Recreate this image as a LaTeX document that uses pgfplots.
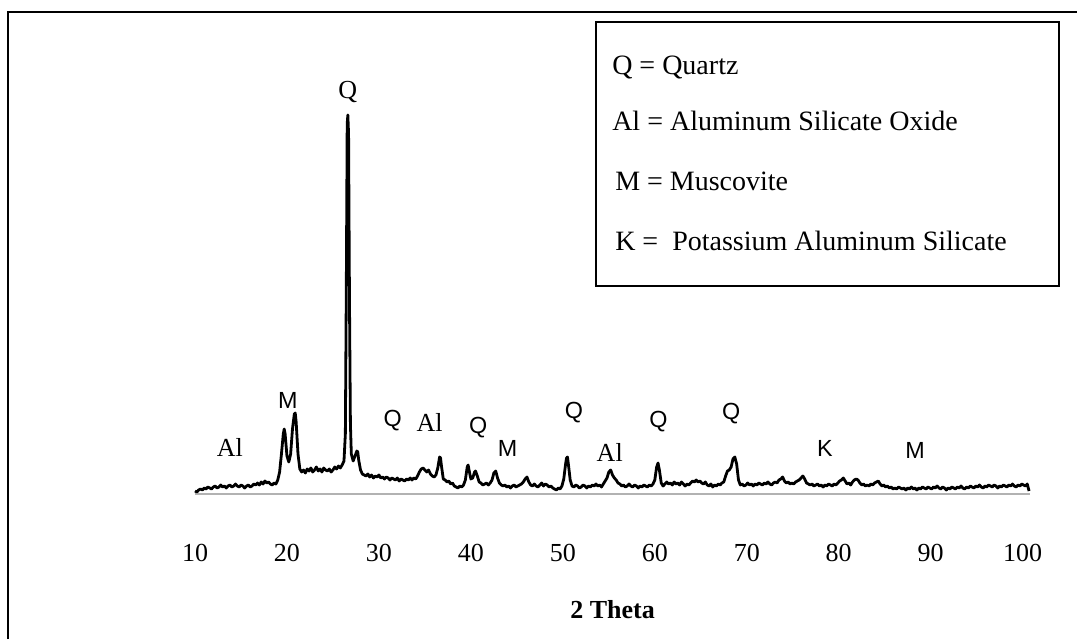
\documentclass[border=0pt]{standalone}
\usepackage{fontspec}
\setmainfont{Liberation Serif}
\newfontfamily\arial{Liberation Sans}
\usepackage{pgfplots}
\pgfplotsset{compat=1.18}

% 1 px of the reference = 0.75pt
\newcommand\lbl[1]{\fontsize{19.5}{21}\selectfont #1}
\newcommand\slbl[1]{\arial\fontsize{17.5}{19}\selectfont #1}

\begin{document}
\begin{tikzpicture}
\path[use as bounding box] (0,0) rectangle (807.75pt,479.25pt);
% outer frame (only top and left edges fall inside the picture)
\draw[line width=2.2pt] (6pt,0) -- (6pt,470.25pt) -- (807.75pt,470.25pt);

\begin{axis}[
    at={(146.25pt,108.75pt)}, anchor=south west,
    scale only axis, width=626.25pt, height=300pt,
    xmin=10, xmax=100.8, ymin=0, ymax=400,
    axis x line*=bottom, axis y line=none,
    axis line style={gray!60, line width=1.5pt},
    xtick={10,20,...,100}, major tick length=0pt, ytick=\empty,
    /pgf/number format/assume math mode=true,
    xticklabel style={font=\fontsize{19.5}{20}\selectfont, yshift=-34pt},
    xlabel={\textbf{2 Theta}},
    xlabel style={font=\fontsize{19.5}{20}\selectfont, yshift=-22pt},
    clip=false,
]
\addplot[black, line width=2.1pt, line join=round] coordinates {
(10.0,3) (10.2,2) (10.4,4) (10.6,5) (10.8,4) (11.0,6) (11.2,5) (11.4,7) (11.6,6) (11.8,5)
(12.0,7) (12.2,8) (12.4,6) (12.6,7) (12.8,9) (13.0,7) (13.2,8) (13.4,6) (13.6,8) (13.8,9)
(14.0,7) (14.2,8) (14.4,10) (14.6,8) (14.8,7) (15.0,9) (15.2,8) (15.4,6) (15.6,8) (15.8,9)
(16.0,7) (16.2,8) (16.4,10) (16.6,9) (16.8,11) (17.0,9) (17.2,12) (17.4,10) (17.6,13) (17.8,11)
(18.0,12) (18.2,10) (18.4,9) (18.6,11) (18.8,10) (19.0,14) (19.2,22) (19.4,40) (19.6,60) (19.7,65)
(19.8,60) (20.0,38) (20.2,32) (20.4,40) (20.6,65) (20.8,80) (20.9,81) (21.0,72) (21.2,40) (21.4,25)
(21.6,22) (21.8,24) (22.0,21) (22.2,25) (22.4,23) (22.6,26) (22.8,22) (23.0,24) (23.2,27) (23.4,23)
(23.6,25) (23.8,22) (24.0,26) (24.2,24) (24.4,23) (24.6,25) (24.8,22) (25.0,24) (25.2,27) (25.4,25)
(25.6,28) (25.8,26) (26.0,29) (26.2,33) (26.35,60) (26.45,200) (26.55,370) (26.62,379) (26.7,360) (26.8,190)
(26.9,70) (27.0,40) (27.2,33) (27.4,38) (27.6,43) (27.7,42) (27.8,34) (28.0,24) (28.2,20) (28.4,19)
(28.6,18) (28.8,20) (29.0,17) (29.2,19) (29.4,16) (29.6,18) (29.8,17) (30.0,19) (30.2,16) (30.4,17)
(30.6,15) (30.8,17) (31.0,16) (31.2,14) (31.4,16) (31.6,15) (31.8,14) (32.0,16) (32.2,13) (32.4,15)
(32.6,14) (32.8,13) (33.0,15) (33.2,14) (33.4,16) (33.6,14) (33.8,16) (34.0,15) (34.2,18) (34.4,22)
(34.6,25) (34.8,26) (35.0,24) (35.2,22) (35.4,24) (35.6,20) (35.8,18) (36.0,17) (36.2,19) (36.4,26)
(36.6,37) (36.7,36) (36.8,28) (37.0,15) (37.2,14) (37.4,12) (37.6,13) (37.8,10) (38.0,11) (38.2,8)
(38.4,7) (38.6,6) (38.8,8) (39.0,7) (39.2,9) (39.4,14) (39.6,27) (39.7,29) (39.8,24) (40.0,15)
(40.2,16) (40.4,22) (40.5,23) (40.7,18) (40.9,12) (41.1,11) (41.3,9) (41.5,10) (41.7,11) (41.9,9)
(42.1,11) (42.3,14) (42.5,21) (42.7,23) (42.9,16) (43.1,11) (43.3,9) (43.5,8) (43.7,9) (43.9,7)
(44.1,8) (44.3,6) (44.5,8) (44.7,9) (44.9,7) (45.1,8) (45.3,9) (45.5,10) (45.7,12) (45.9,15)
(46.1,17) (46.3,12) (46.5,9) (46.7,8) (46.9,10) (47.1,8) (47.3,7) (47.5,9) (47.7,11) (47.9,8)
(48.1,10) (48.3,9) (48.5,7) (48.7,8) (48.9,6) (49.1,5) (49.3,4) (49.5,6) (49.7,5) (49.9,8)
(50.1,15) (50.3,30) (50.4,36) (50.5,37) (50.6,30) (50.8,14) (51.0,8) (51.2,7) (51.4,9) (51.6,8)
(51.8,6) (52.0,7) (52.2,9) (52.4,8) (52.6,6) (52.8,8) (53.0,7) (53.2,9) (53.4,8) (53.6,10)
(53.8,8) (54.0,9) (54.2,7) (54.4,10) (54.6,13) (54.8,16) (55.0,22) (55.2,24) (55.4,19) (55.6,16)
(55.8,14) (56.0,11) (56.2,10) (56.4,8) (56.6,9) (56.8,7) (57.0,8) (57.2,10) (57.4,8) (57.6,7)
(57.8,9) (58.0,8) (58.2,6) (58.4,8) (58.6,7) (58.8,9) (59.0,8) (59.2,7) (59.4,9) (59.6,8)
(59.8,10) (60.0,14) (60.2,27) (60.35,31) (60.5,24) (60.7,11) (60.9,8) (61.1,10) (61.3,12) (61.5,10)
(61.7,11) (61.9,9) (62.1,12) (62.3,10) (62.5,11) (62.7,9) (62.9,12) (63.1,10) (63.3,8) (63.5,10)
(63.7,9) (63.9,11) (64.1,13) (64.3,12) (64.5,14) (64.7,12) (64.9,13) (65.1,11) (65.3,10) (65.5,12)
(65.7,9) (65.9,8) (66.1,10) (66.3,7) (66.5,9) (66.7,8) (66.9,10) (67.1,9) (67.3,11) (67.5,12)
(67.7,18) (67.9,23) (68.1,24) (68.3,27) (68.5,35) (68.7,37) (68.9,30) (69.1,14) (69.3,9) (69.5,10)
(69.7,8) (69.9,9) (70.1,11) (70.3,9) (70.5,10) (70.7,8) (70.9,10) (71.1,9) (71.3,11) (71.5,10)
(71.7,9) (71.9,11) (72.1,10) (72.3,12) (72.5,10) (72.7,9) (72.9,11) (73.1,12) (73.3,11) (73.5,14)
(73.7,15) (73.9,17) (74.1,13) (74.3,11) (74.5,12) (74.7,10) (74.9,11) (75.1,10) (75.3,12) (75.5,13)
(75.7,14) (75.9,16) (76.1,18) (76.3,15) (76.5,11) (76.7,10) (76.9,9) (77.1,10) (77.3,8) (77.5,9)
(77.7,10) (77.9,8) (78.1,9) (78.3,7) (78.5,9) (78.7,8) (78.9,10) (79.1,9) (79.3,8) (79.5,10)
(79.7,9) (79.9,11) (80.1,13) (80.3,14) (80.5,16) (80.7,13) (80.9,10) (81.1,11) (81.3,9) (81.5,12)
(81.7,14) (81.9,15) (82.1,14) (82.3,11) (82.5,9) (82.7,10) (82.9,8) (83.1,9) (83.3,8) (83.5,10)
(83.7,9) (83.9,11) (84.1,12) (84.3,13) (84.5,10) (84.7,8) (84.9,9) (85.1,7) (85.3,8) (85.5,6)
(85.7,7) (85.9,5) (86.1,6) (86.3,5) (86.5,7) (86.7,6) (86.9,5) (87.1,6) (87.3,4) (87.5,6)
(87.7,5) (87.9,7) (88.1,5) (88.3,6) (88.5,4) (88.7,6) (88.9,5) (89.1,7) (89.3,6) (89.5,5)
(89.7,7) (89.9,6) (90.1,5) (90.3,7) (90.5,6) (90.7,8) (90.9,6) (91.1,5) (91.3,7) (91.5,6)
(91.7,4) (91.9,6) (92.1,5) (92.3,7) (92.5,6) (92.7,5) (92.9,7) (93.1,6) (93.3,8) (93.5,6)
(93.7,5) (93.9,7) (94.1,6) (94.3,8) (94.5,7) (94.7,6) (94.9,8) (95.1,7) (95.3,9) (95.5,7)
(95.7,6) (95.9,8) (96.1,7) (96.3,9) (96.5,8) (96.7,7) (96.9,9) (97.1,8) (97.3,6) (97.5,8)
(97.7,7) (97.9,9) (98.1,8) (98.3,7) (98.5,9) (98.7,8) (98.9,10) (99.1,8) (99.3,7) (99.5,9)
(99.7,8) (99.9,10) (100.1,9) (100.3,8) (100.5,10) (100.7,3)
};

% phase labels
\node[inner sep=0] at (axis cs:13.8,47) {\lbl{Al}};
\node[inner sep=0] at (axis cs:20.1,94) {\slbl{M}};
\node[inner sep=0] at (axis cs:26.6,402) {\lbl{Q}};
\node[inner sep=0] at (axis cs:31.5,73) {\slbl{Q}};
\node[inner sep=0] at (axis cs:35.5,72) {\lbl{Al}};
\node[inner sep=0] at (axis cs:40.8,66) {\slbl{Q}};
\node[inner sep=0] at (axis cs:44.0,46) {\slbl{M}};
\node[inner sep=0] at (axis cs:51.2,81) {\slbl{Q}};
\node[inner sep=0] at (axis cs:55.1,42) {\lbl{Al}};
\node[inner sep=0] at (axis cs:60.4,72) {\slbl{Q}};
\node[inner sep=0] at (axis cs:68.3,80) {\slbl{Q}};
\node[inner sep=0] at (axis cs:78.5,46) {\slbl{K}};
\node[inner sep=0] at (axis cs:88.3,44) {\slbl{M}};
\end{axis}

% key box
\draw[line width=1.5pt] (447pt,264.75pt) rectangle (794.25pt,462.75pt);
\begin{scope}[every node/.style={anchor=base west, inner sep=0, font=\fontsize{21}{22}\selectfont}]
\node at (459pt,423pt) {Q = Quartz};
\node at (459pt,381pt) {Al = Aluminum Silicate Oxide};
\node at (461.25pt,336pt) {M = Muscovite};
\node at (461.25pt,291pt) {K =\ \ Potassium Aluminum Silicate};
\end{scope}
\end{tikzpicture}
\end{document}
